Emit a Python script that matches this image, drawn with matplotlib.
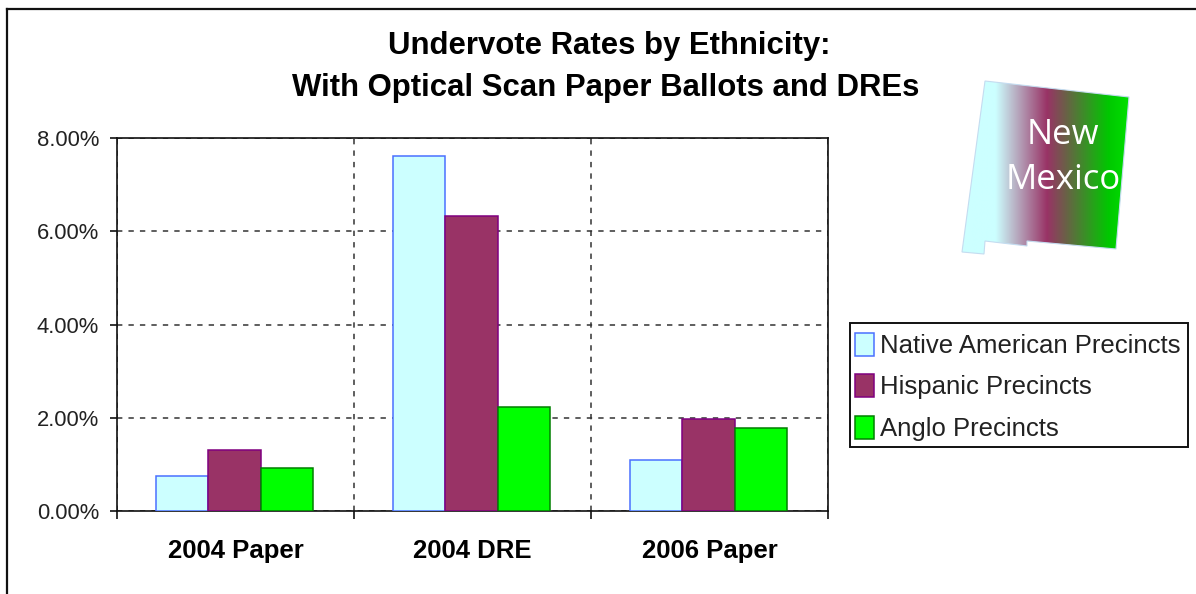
import numpy as np
import matplotlib
matplotlib.use("Agg")
import matplotlib.pyplot as plt
from matplotlib.colors import LinearSegmentedColormap
from matplotlib.patches import Polygon, Rectangle
from matplotlib.ticker import FuncFormatter, MultipleLocator

plt.rcParams['font.family'] = ['Liberation Sans', 'DejaVu Sans']

categories = ['2004 Paper', '2004 DRE', '2006 Paper']
native = [0.75, 7.62, 1.10]
hispanic = [1.30, 6.32, 1.97]
anglo = [0.92, 2.22, 1.77]
series_names = ['Native American Precincts', 'Hispanic Precincts', 'Anglo Precincts']

W, H = 1196, 594
fig = plt.figure(figsize=(W / 100, H / 100), dpi=100)

# outer chart frame and the state logo are drawn in pixel coordinates
bg = fig.add_axes([0, 0, 1, 1])
bg.set_xlim(0, W)
bg.set_ylim(H, 0)
bg.axis('off')
bg.plot([7, 7], [H, 9], color='#111111', lw=1.6)
bg.plot([7, W], [9, 9], color='#111111', lw=1.6)

nm_outline = [(985, 81), (1129, 97), (1116, 249), (1027, 241), (1027, 246),
              (985, 241), (984, 254), (962, 252)]
nm_cmap = LinearSegmentedColormap.from_list(
    'nm', [(0, '#CCFFFF'), (0.2, '#CCFFFF'), (0.51, '#993366'), (0.88, '#00C800'), (1, '#00E000')])
grad = bg.imshow(np.linspace(0, 1, 256).reshape(1, -1), cmap=nm_cmap, aspect='auto',
                 extent=(962, 1129, 254, 81), zorder=2)
bg.set_xlim(0, W)
bg.set_ylim(H, 0)
clip = Polygon(nm_outline, closed=True, transform=bg.transData, fc='none', ec='none')
bg.add_patch(clip)
grad.set_clip_path(clip)
bg.add_patch(Polygon(nm_outline, closed=True, fc='none', ec='#C4DCF0', lw=0.8, zorder=3))
bg.text(1063, 135, 'New', color='white', fontsize=25, family='Open Sans',
        ha='center', va='center', zorder=4)
bg.text(1063, 180, 'Mexico', color='white', fontsize=25, family='Open Sans',
        ha='center', va='center', zorder=4)

bg.text(609, 46, 'Undervote Rates by Ethnicity:', fontsize=22.4, fontweight='bold',
        ha='center', va='center', color='black')
bg.text(606, 88, 'With Optical Scan Paper Ballots and DREs', fontsize=22.4, fontweight='bold',
        ha='center', va='center', color='black')

# legend box, the legend itself sits on top without a frame
bg.add_patch(Rectangle((850, 323), 338, 124, fc='white', ec='#111111', lw=1.4))

# plot area
left, right, top, bottom = 117, 828, 138, 511
ax = fig.add_axes([left / W, 1 - bottom / H, (right - left) / W, (bottom - top) / H])
ax.patch.set_alpha(0)

x = np.arange(len(categories))
width = 0.222
styles = [('#CCFFFF', '#4A70FF'), ('#993366', '#800080'), ('#00FF00', '#008000')]
handles = []
for i, (vals, name) in enumerate(zip([native, hispanic, anglo], series_names)):
    fc, ec = styles[i]
    handles.append(ax.bar(x + (i - 1) * width - 0.004, vals, width, color=fc, edgecolor=ec,
                          linewidth=1.1, label=name, zorder=3))

ax.set_xlim(-0.5, 2.5)
ax.set_ylim(0, 8)
ax.yaxis.set_major_locator(MultipleLocator(2))
ax.yaxis.set_major_formatter(FuncFormatter(lambda v, p: '%.2f%%' % v))
ax.set_xticks(x)
ax.set_xticklabels(categories, fontsize=18.5, fontweight='bold')
ax.set_xticks([0.5, 1.5, -0.5, 2.5], minor=True)
ax.tick_params(axis='x', which='major', length=0, pad=20)
ax.tick_params(axis='x', which='minor', length=6, width=1.2, color='#111111')
ax.tick_params(axis='y', length=5, width=1.2, color='#111111', labelsize=15.8, labelcolor='#222222', pad=8)
for s in ax.spines.values():
    s.set_color('#111111')
    s.set_linewidth(1.2)

ax.grid(axis='y', which='major', linestyle=(0, (3.5, 4)), color='#333333', lw=1.1, zorder=1)
ax.grid(axis='x', which='minor', linestyle=(0, (3.5, 4)), color='#333333', lw=1.1, zorder=1)
ax.grid(axis='x', which='major', visible=False)

fig.legend(handles=handles, loc='upper left', bbox_to_anchor=(847.3 / W, 1 - 325 / H),
           borderaxespad=0, frameon=False, fontsize=18.5, handlelength=0.74, handleheight=1.0,
           handletextpad=0.25, labelspacing=0.63, borderpad=0.3, labelcolor='#222222')

fig.savefig('out.png', dpi=100)
